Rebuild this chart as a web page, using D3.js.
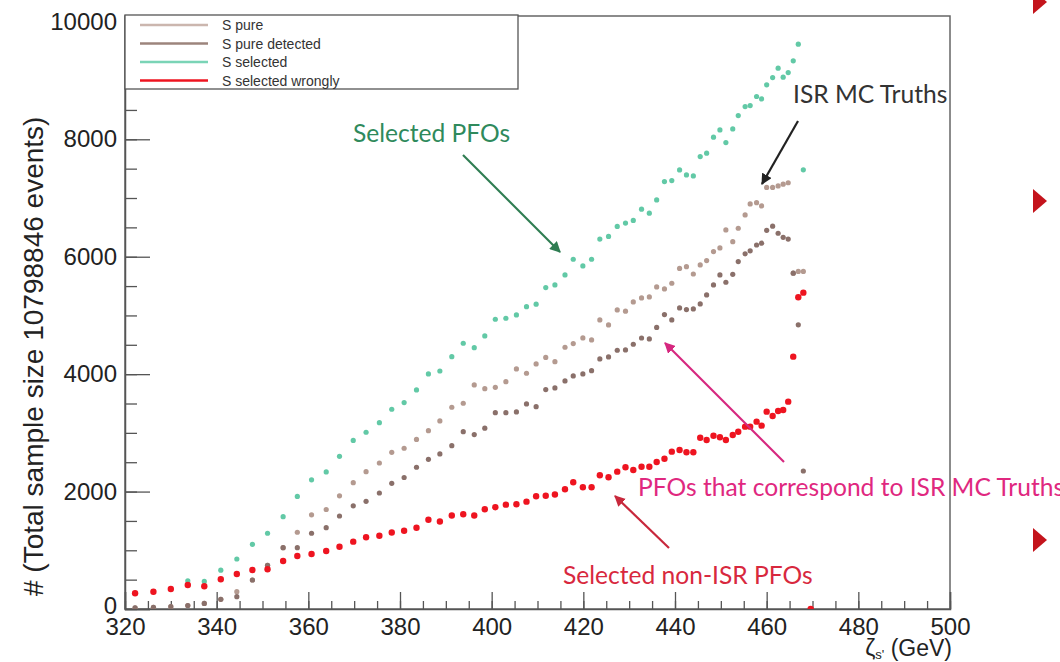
<!DOCTYPE html>
<html>
<head>
<meta charset="utf-8">
<script src="https://cdn.jsdelivr.net/npm/d3@7"></script>
<style>
  body { margin: 0; background: #fff; }
  svg { display: block; }
</style>
</head>
<body>
<div class="chart"></div>
<script>
// bin centres, GeV
const zeta = [
  322.2, 326.2, 330.0, 333.7, 337.3, 340.9, 344.4, 347.8, 351.1, 354.5,
  357.6, 360.7, 363.9, 366.8, 369.8, 372.6, 375.5, 378.2, 380.9, 383.6,
  386.2, 388.7, 391.3, 393.8, 396.2, 398.5, 400.8, 403.1, 405.4, 407.6,
  409.7, 411.8, 413.8, 416.0, 417.8, 419.9, 421.8, 423.6, 425.5, 427.4,
  429.2, 430.9, 432.7, 434.4, 436.0, 437.7, 439.3, 441.0, 442.5, 444.0,
  445.5, 446.9, 448.4, 449.8, 451.1, 452.6, 453.8, 455.3, 456.4, 457.8,
  458.9, 460.0, 461.3, 462.5, 463.6, 464.7, 465.8, 466.9, 468.0, 469.6
];

const sPure = [
  20, 30, 40, 60, 95, 165, 295, 494, 745, 1044,
  1307, 1604, 1695, 1928, 2152, 2339, 2487, 2669, 2738, 2888,
  3038, 3203, 3436, 3504, 3816, 3752, 3776, 3872, 4089, 4015,
  4174, 4284, 4213, 4458, 4520, 4617, 4583, 4923, 4838, 5094,
  5072, 5230, 5298, 5315, 5485, 5451, 5548, 5800, 5831, 5706,
  5860, 5934, 6087, 6150, 6457, 6257, 6485, 6712, 6899, 6920,
  6865, 7180, 7180, 7206, 7235, 7260, 5720, 5750, 5750, null
];

const sPureDetected = [
  20, 30, 40, 60, 95, 165, 210, 494, 745, 1044,
  1044, 1290, 1385, 1584, 1757, 1834, 1976, 2141, 2240, 2414,
  2550, 2641, 2782, 3020, 2970, 3080, 3344, 3344, 3356, 3492,
  3446, 3737, 3766, 3884, 3970, 4004, 4060, 4260, 4293, 4407,
  4412, 4509, 4616, 4600, 4796, 5014, 4923, 5128, 5100, 5111,
  5196, 5349, 5520, 5690, 5565, 5701, 5917, 6050, 6100, 6200,
  6230, 6450, 6520, 6400, 6330, 6300, 5720, 4840, 2350, null
];

const sSelected = [
  267, 295, 341, 480, 470, 662, 852, 1102, 1290, 1572,
  1917, 2200, 2334, 2600, 2872, 3010, 3174, 3402, 3515, 3731,
  4003, 4054, 4298, 4526, 4451, 4651, 4935, 4952, 5009, 5150,
  5191, 5474, 5520, 5690, 5957, 5843, 5957, 6300, 6346, 6516,
  6573, 6618, 6809, 6741, 6968, 7280, 7297, 7479, 7394, 7376,
  7705, 7763, 8036, 8160, 7944, 8177, 8404, 8557, 8574, 8729,
  8688, 8927, 9051, 9211, 9058, 9136, 9336, 9620, 7480, null
];

const sSelectedWrongly = [
  267, 295, 341, 409, 387, 506, 596, 664, 676, 818,
  903, 937, 988, 1061, 1147, 1221, 1247, 1303, 1332, 1383,
  1521, 1491, 1593, 1613, 1593, 1700, 1733, 1777, 1785, 1828,
  1920, 1928, 1951, 2039, 2158, 2073, 2073, 2278, 2244, 2339,
  2414, 2368, 2424, 2424, 2504, 2560, 2680, 2709, 2669, 2669,
  2918, 2879, 2952, 2925, 2879, 2964, 3020, 3106, 3106, 3191,
  3123, 3361, 3288, 3373, 3390, 3532, 4298, 5310, 5388, 0
];

const seriesNames = ["S pure", "S pure detected", "S selected", "S selected wrongly"];
const seriesColors = ["#b49a90", "#8a706a", "#62c9a6", "#ee1420"];
const legendColors = ["#cbb6ae", "#9c847c", "#7ad4b6", "#ee1420"];

const xMajor = [320, 340, 360, 380, 400, 420, 440, 460, 480, 500];
const yMajor = [0, 2000, 4000, 6000, 8000, 10000];

const width = 1060;
const height = 662;

const x = d3.scaleLinear().domain([320, 500]).range([125, 950]);
const y = d3.scaleLinear().domain([0, 10100]).range([609, 16]);

const svg = d3.select(".chart")
  .append("svg")
  .attr("width", width)
  .attr("height", height);

svg.append("clipPath")
  .attr("id", "frame-clip")
  .append("rect")
  .attr("x", x(320))
  .attr("y", y(10100))
  .attr("width", x(500) - x(320))
  .attr("height", y(0) - y(10100));

// frame
svg.append("rect")
  .attr("x", x(320))
  .attr("y", y(10100))
  .attr("width", x(500) - x(320))
  .attr("height", y(0) - y(10100))
  .attr("fill", "none")
  .attr("stroke", "#666")
  .attr("stroke-width", 1.5);

// y axis: ticks point inwards
const yAxisMinor = d3.axisLeft(y)
  .tickValues(d3.range(0, 10001, 500))
  .tickSize(-12)
  .tickFormat("");

const yAxis = d3.axisLeft(y)
  .tickValues(yMajor)
  .tickSize(-25)
  .tickPadding(8)
  .tickFormat(d3.format("d"));

svg.append("g")
  .attr("transform", `translate(${x(320)},0)`)
  .call(yAxisMinor)
  .call(g => g.select(".domain").remove());

svg.append("g")
  .attr("class", "y-axis")
  .attr("transform", `translate(${x(320)},0)`)
  .call(yAxis)
  .call(g => g.select(".domain").attr("stroke", "#555").attr("stroke-width", 1.5));

const xAxisMinor = d3.axisBottom(x)
  .tickValues(d3.range(320, 501, 5))
  .tickSize(-8)
  .tickFormat("");

const xAxis = d3.axisBottom(x)
  .tickValues(xMajor)
  .tickSize(-17)
  .tickPadding(6)
  .tickFormat(d3.format("d"));

svg.append("g")
  .attr("transform", `translate(0,${y(0)})`)
  .call(xAxisMinor)
  .call(g => g.select(".domain").remove());

svg.append("g")
  .attr("class", "x-axis")
  .attr("transform", `translate(0,${y(0)})`)
  .call(xAxis)
  .call(g => g.select(".domain").attr("stroke", "#555").attr("stroke-width", 1.5));

svg.selectAll(".tick line")
  .attr("stroke", "#555")
  .attr("stroke-width", 1.3);

svg.selectAll(".x-axis text, .y-axis text")
  .attr("fill", "#222")
  .style("font-family", "'Liberation Sans', Arial, sans-serif")
  .style("font-size", "24px");

svg.selectAll(".x-axis text").attr("dy", "0.82em");
// the 0 label sits just on top of the 320 label, as in the original
svg.selectAll(".y-axis .tick")
  .filter(d => d === 0)
  .select("text")
  .attr("dy", "0.18em");

// axis titles
svg.append("text")
  .attr("transform", `translate(43,${y(0) - 13}) rotate(-90)`)
  .attr("fill", "#222")
  .style("font-family", "'Liberation Sans', Arial, sans-serif")
  .style("font-size", "28px")
  .text("# (Total sample size 10798846 events)");

const xTitle = svg.append("text")
  .attr("x", x(500) + 2)
  .attr("y", 656)
  .attr("text-anchor", "end")
  .attr("fill", "#222")
  .style("font-family", "'Liberation Sans', Arial, sans-serif")
  .style("font-size", "23px");
xTitle.append("tspan").text("ζ");
xTitle.append("tspan").attr("dy", 3).style("font-size", "13px").text("s'");
xTitle.append("tspan").attr("dy", -3).text(" (GeV)");

// markers
const allSeries = [sPure, sPureDetected, sSelected, sSelectedWrongly];
const radii = [2.6, 2.6, 2.6, 3.2];

const plot = svg.append("g").attr("clip-path", "url(#frame-clip)");

allSeries.forEach((values, k) => {
  const pts = zeta.map((z, i) => [z, values[i]]).filter(d => d[1] != null);
  plot.append("g")
    .selectAll("circle")
    .data(pts)
    .join("circle")
    .attr("cx", d => x(d[0]))
    .attr("cy", d => y(d[1]))
    .attr("r", radii[k])
    .attr("fill", seriesColors[k]);
});

// legend
const legend = svg.append("g");
legend.append("rect")
  .attr("x", x(320))
  .attr("y", 15)
  .attr("width", 393)
  .attr("height", 74)
  .attr("fill", "#fff")
  .attr("stroke", "#555")
  .attr("stroke-width", 1.3);

seriesNames.forEach((name, k) => {
  const ly = 25 + k * 18.5;
  legend.append("line")
    .attr("x1", 140).attr("x2", 208)
    .attr("y1", ly).attr("y2", ly)
    .attr("stroke", legendColors[k])
    .attr("stroke-width", 2.5);
  legend.append("text")
    .attr("x", 222)
    .attr("y", ly + 5)
    .attr("fill", "#333")
    .style("font-family", "'Liberation Sans', Arial, sans-serif")
    .style("font-size", "14px")
    .text(name);
});

// annotations
const notes = [
  { text: "Selected PFOs", x: 353, y: 142, color: "#2f8a5c" },
  { text: "ISR MC Truths", x: 793, y: 103, color: "#333" },
  { text: "PFOs that correspond to ISR MC Truths", x: 638, y: 496, color: "#e0287f" },
  { text: "Selected non-ISR PFOs", x: 563, y: 584, color: "#d8283e" }
];

const arrows = [
  { from: [463, 155], to: [560, 252], color: "#2f7d52" },
  { from: [798, 121], to: [762, 184], color: "#222" },
  { from: [784, 462], to: [665, 343], color: "#d6287f" },
  { from: [669, 548], to: [615, 496], color: "#c8283c" }
];

const defs = svg.append("defs");
arrows.forEach((a, i) => {
  defs.append("marker")
    .attr("id", "head" + i)
    .attr("viewBox", "0 0 10 10")
    .attr("refX", 9)
    .attr("refY", 5)
    .attr("markerWidth", 5)
    .attr("markerHeight", 5)
    .attr("orient", "auto")
    .append("path")
    .attr("d", "M0,0L10,5L0,10z")
    .attr("fill", a.color);

  svg.append("line")
    .attr("x1", a.from[0]).attr("y1", a.from[1])
    .attr("x2", a.to[0]).attr("y2", a.to[1])
    .attr("stroke", a.color)
    .attr("stroke-width", 2.2)
    .attr("marker-end", `url(#head${i})`);
});

notes.forEach(n => {
  svg.append("text")
    .attr("x", n.x)
    .attr("y", n.y)
    .attr("fill", n.color)
    .style("font-family", "Lato, 'Open Sans', sans-serif")
    .style("font-size", "24.6px")
    .text(n.text);
});

// slide bullets at the right edge
[2, 201, 540].forEach(cy => {
  svg.append("path")
    .attr("d", `M1033,${cy - 12}L1047,${cy}L1033,${cy + 12}Z`)
    .attr("fill", "#c4141c");
});
</script>
</body>
</html>
